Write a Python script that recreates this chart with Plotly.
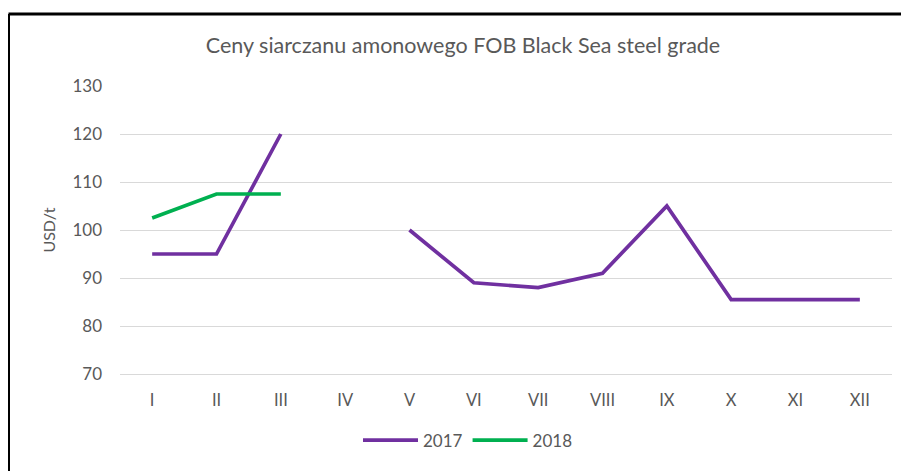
import plotly.graph_objects as go

months = ["I", "II", "III", "IV", "V", "VI", "VII", "VIII", "IX", "X", "XI", "XII"]
y2017 = [95, 95, 120, None, 100, 89, 88, 91, 105, 85.5, 85.5, 85.5]
y2018 = [102.5, 107.5, 107.5, None, None, None, None, None, None, None, None, None]
yticks = [70, 80, 90, 100, 110, 120, 130]

# page body has an 8px margin, so figure-local coordinates = reference - 8
OFF = 8
W, H = 909 - OFF, 471 - OFF
L, R, T, B = 120 - OFF, 892 - OFF, 86 - OFF, 380 - OFF

fig = go.Figure()
fig.add_trace(go.Scatter(x=months, y=y2017, name="2017", mode="lines",
                         line=dict(color="#7030A0", width=3.7), connectgaps=False))
fig.add_trace(go.Scatter(x=months, y=y2018, name="2018", mode="lines",
                         line=dict(color="#00B050", width=3.7), connectgaps=False))

def px_x(p):
    return (p - OFF - L) / (R - L)

def px_y(p):
    return (B - (p - OFF)) / (B - T)

fig.update_layout(
    width=W, height=H,
    margin=dict(l=L, r=W - R, t=T, b=H - B, pad=0),
    paper_bgcolor="white", plot_bgcolor="white",
    font=dict(family="Lato", color="#595959", size=17),
    title=dict(text="Ceny siarczanu amonowego FOB Black Sea steel grade",
               x=(463 - OFF) / W, xanchor="center", xref="container",
               y=1 - (45 - OFF) / H, yanchor="middle", yref="container",
               font=dict(size=21.5, color="#595959", family="Lato")),
    xaxis=dict(type="category", categoryarray=months, showgrid=False,
               showline=True, linecolor="#D9D9D9", linewidth=1,
               ticks="", ticklabelstandoff=11, tickfont=dict(size=16.5),
               range=[-0.5, 11.5], fixedrange=True),
    yaxis=dict(range=[70, 130], tickvals=yticks, showgrid=True, gridcolor="#D9D9D9",
               gridwidth=1, zeroline=False, showline=False, ticks="",
               ticklabelstandoff=17, tickfont=dict(size=17),
               title=dict(text="USD/t", standoff=12, font=dict(size=16, color="#595959"))),
    legend=dict(orientation="h", x=px_x(468), xanchor="center", y=px_y(448), yanchor="middle",
                font=dict(size=17, color="#595959"), itemwidth=55, traceorder="normal"),
    showlegend=True,
)

# Outer frame (top and left edges visible)
fig.add_shape(type="line", xref="paper", yref="paper",
              x0=px_x(OFF + 0.5), x1=px_x(930), y0=px_y(12.5), y1=px_y(12.5),
              line=dict(color="black", width=3))
fig.add_shape(type="line", xref="paper", yref="paper",
              x0=px_x(OFF + 0.5), x1=px_x(OFF + 0.5), y0=px_y(12.5), y1=px_y(500),
              line=dict(color="black", width=3))

fig.write_html("out.html")
